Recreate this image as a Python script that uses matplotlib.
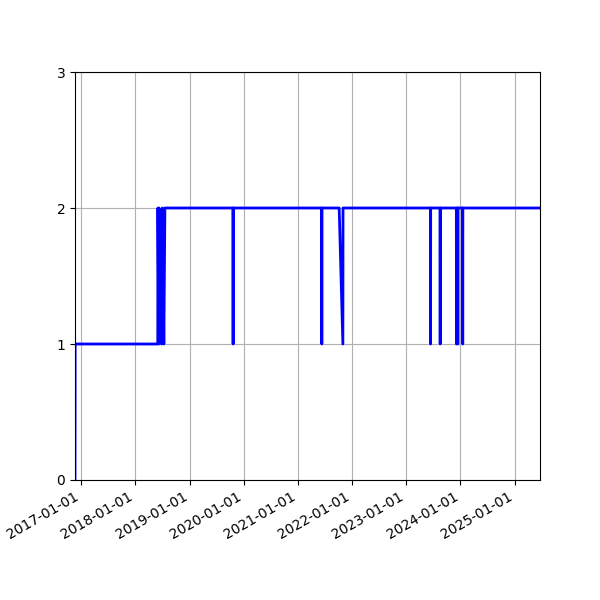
import matplotlib
matplotlib.use("Agg")
import matplotlib.pyplot as plt
import matplotlib.dates as mdates
import pandas as pd

# status change points
dates = [
    "2016-11-20", "2016-11-21",
    "2018-06-01", "2018-06-02", "2018-06-08", "2018-06-10",
    "2018-06-26", "2018-07-02", "2018-07-12", "2018-07-19",
    "2019-10-21", "2019-10-22", "2019-10-23",
    "2021-06-10", "2021-06-11", "2021-06-12",
    "2021-10-06", "2021-10-31", "2021-11-01",
    "2023-06-13", "2023-06-14", "2023-06-15",
    "2023-08-17", "2023-08-18", "2023-08-19",
    "2023-12-05", "2023-12-06", "2023-12-10", "2023-12-14", "2023-12-15", "2023-12-16",
    "2024-01-16", "2024-01-17", "2024-01-18",
    "2025-06-21",
]
values = [
    0, 1,
    1, 2, 1, 2,
    1, 2, 1, 2,
    2, 1, 2,
    2, 1, 2,
    2, 1, 2,
    2, 1, 2,
    2, 1, 2,
    2, 1, 2, 2, 1, 2,
    2, 1, 2,
    2,
]

x = pd.to_datetime(dates)

fig, ax = plt.subplots(figsize=(6, 6), dpi=100)
ax.plot(x, values, color="blue", linewidth=2)
ax.set_xlim(x[0], x[-1])
ax.set_ylim(0, 3)
ax.set_yticks([0, 1, 2, 3])
ax.xaxis.set_major_locator(mdates.YearLocator())
ax.xaxis.set_major_formatter(mdates.DateFormatter("%Y-%m-%d"))
ax.grid(True)
fig.autofmt_xdate()
fig.savefig("out.png")
